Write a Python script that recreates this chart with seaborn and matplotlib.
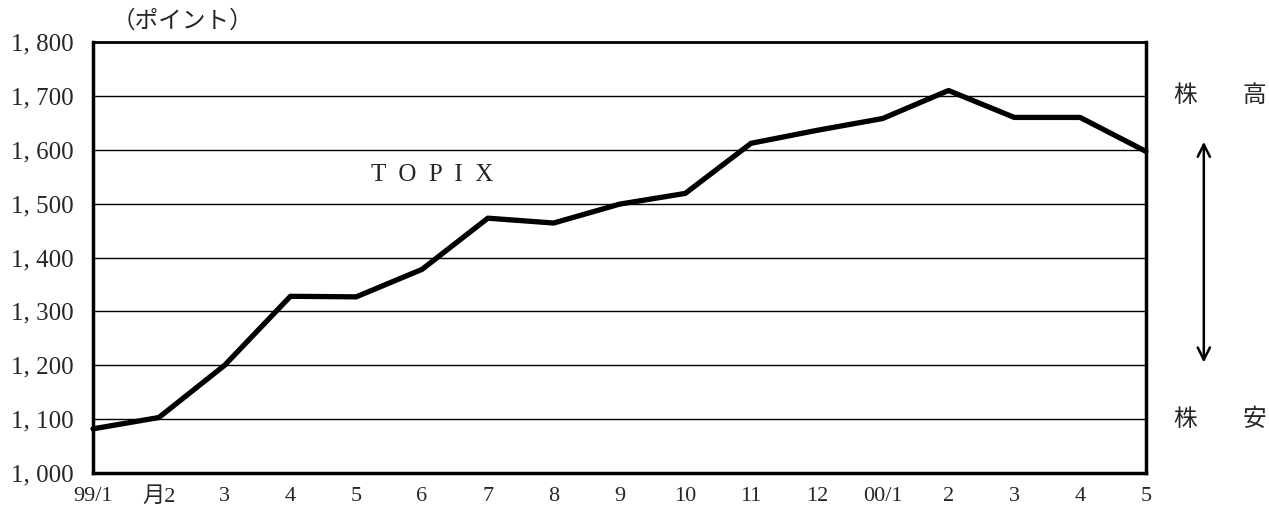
import matplotlib
matplotlib.use("Agg")
import matplotlib.pyplot as plt
import matplotlib.transforms as mtransforms
import seaborn as sns
import pandas as pd

# TOPIX monthly values, 1999/1 .. 2000/5
months = ["99/1", "2", "3", "4", "5", "6", "7", "8", "9", "10", "11", "12",
          "00/1", "2", "3", "4", "5"]
topix = [1082, 1103, 1200, 1328, 1327, 1378, 1473, 1464, 1499, 1519,
         1612, 1636, 1658, 1710, 1660, 1660, 1597]
y_ticks = [1000, 1100, 1200, 1300, 1400, 1500, 1600, 1700, 1800]

df = pd.DataFrame({"pos": range(len(months)), "topix": topix})

sns.set_style("white")
plt.rcParams['font.family'] = ['Liberation Serif', 'Noto Sans CJK JP', 'DejaVu Sans']
jp = ['Noto Sans CJK JP', 'DejaVu Sans']

fig = plt.figure(figsize=(12.69, 5.16), dpi=100)
ax = fig.add_axes([0.0733, 0.0833, 0.8297, 0.8353])

for v in y_ticks[1:-1]:
    ax.axhline(v, color="black", lw=1.0, zorder=1)

sns.lineplot(data=df, x="pos", y="topix", ax=ax, color="black", lw=3.8,
             zorder=3, clip_on=False)

ax.set_xlim(0, len(months) - 1)
ax.set_ylim(1000, 1800)
ax.set_xlabel("")
ax.set_ylabel("")

ax.set_yticks(y_ticks)
ax.set_yticklabels([f"{v:,}".replace(",", ", ") for v in y_ticks], fontsize=18)
ax.tick_params(axis="y", length=0, pad=14)

ax.set_xticks(range(len(months)))
labels = list(months)
labels[1] = "月2"
ax.set_xticklabels(labels, fontsize=16)
ax.tick_params(axis="x", direction="in", length=6, width=1.5, pad=10,
               color="black")

for side in ["left", "bottom", "right"]:
    ax.spines[side].set_linewidth(2.5)
    ax.spines[side].set_color("black")
ax.spines["top"].set_linewidth(2.0)
ax.spines["top"].set_color("black")

ax.text(5.15, 1553, "T  O  P  I  X", fontsize=18, ha="center", va="center")

fig.text(0.088, 0.958, "（ポイント）", fontsize=17, ha="left", va="center",
         family=jp)

trans = mtransforms.blended_transform_factory(ax.transAxes, ax.transData)
ax.text(1.026, 1700, "株", transform=trans, fontsize=17, ha="left",
        va="center", family=jp)
ax.text(1.092, 1700, "高", transform=trans, fontsize=17, ha="left",
        va="center", family=jp)
ax.text(1.026, 1100, "株", transform=trans, fontsize=17, ha="left",
        va="center", family=jp)
ax.text(1.092, 1100, "安", transform=trans, fontsize=17, ha="left",
        va="center", family=jp)

ax.annotate("", xy=(1.055, 0.775), xytext=(1.055, 0.25),
            xycoords="axes fraction", textcoords="axes fraction",
            arrowprops=dict(arrowstyle="<->", lw=1.8, color="black",
                            mutation_scale=22))

fig.savefig("out.png", dpi=100)
